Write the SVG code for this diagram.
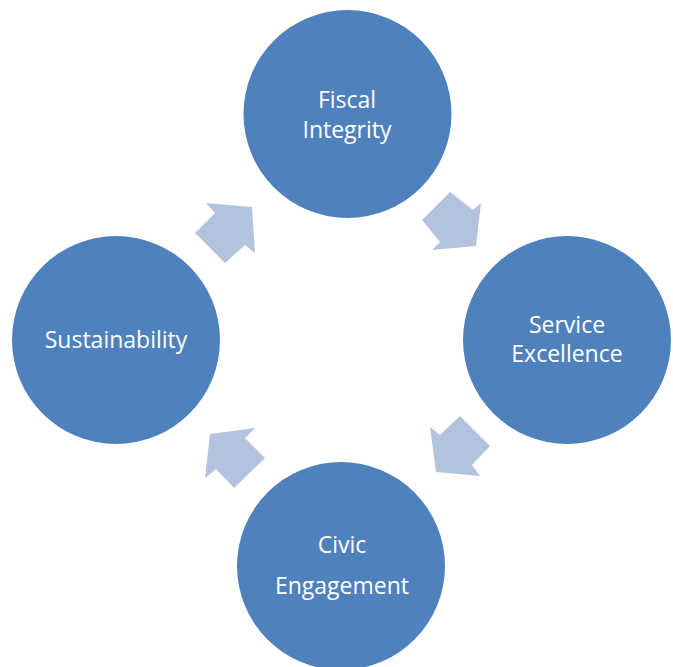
<svg xmlns="http://www.w3.org/2000/svg" width="673" height="667" viewBox="0 0 673 667">
  <style>
    .node { fill: #4F81BD; }
    .label { fill: #FFFFFF; font-family: "Open Sans", "Noto Sans", sans-serif; font-size: 23px; text-anchor: middle; }
    .arrow { fill: #B3C3DE; }
  </style>
  <rect width="673" height="667" fill="#FFFFFF"/>

  <!-- block arrows between the cycle stages -->
  <g id="connectors">
    <polygon class="arrow" points="206,203 252,207 255,253 245,245 225,263 195,233 215,213"/>
    <polygon class="arrow" points="450,192 473,210 481,203 476,246 432,250 440,242 422,220"/>
    <polygon class="arrow" points="430,427 440,435 460,416 490,446 472,465 480,476 436,472"/>
    <polygon class="arrow" points="210,434 255,428 245,438 265,458 234,488 216,469 205,478"/>
  </g>

  <g id="fiscal-integrity">
    <circle class="node" cx="347.5" cy="114" r="104"/>
    <text class="label" x="347" y="108">Fiscal</text>
    <text class="label" x="347" y="138">Integrity</text>
  </g>

  <g id="service-excellence">
    <circle class="node" cx="567" cy="340" r="104"/>
    <text class="label" x="567" y="333">Service</text>
    <text class="label" x="567" y="362">Excellence</text>
  </g>

  <g id="civic-engagement">
    <circle class="node" cx="341" cy="566" r="104"/>
    <text class="label" x="342" y="553">Civic</text>
    <text class="label" x="342" y="594">Engagement</text>
  </g>

  <g id="sustainability">
    <circle class="node" cx="116" cy="340" r="104"/>
    <text class="label" x="116" y="348">Sustainability</text>
  </g>
</svg>
